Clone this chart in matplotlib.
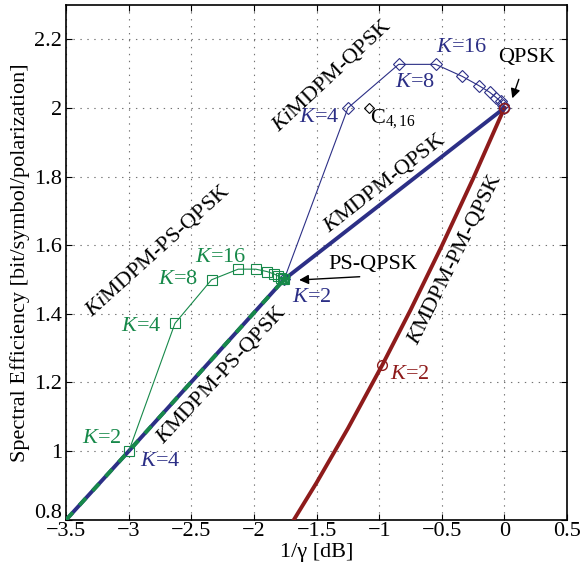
import matplotlib
matplotlib.use('Agg')
import matplotlib.pyplot as plt
import matplotlib.transforms as mtransforms

plt.rcParams['font.family'] = ['Liberation Serif', 'DejaVu Serif']
plt.rcParams['mathtext.fontset'] = 'custom'
plt.rcParams['mathtext.rm'] = 'Liberation Serif'
plt.rcParams['mathtext.it'] = 'Liberation Serif:italic'
plt.rcParams['lines.scale_dashes'] = False

# 색상
BLUE = '#2c2f86'
GREEN = '#17894a'
RED = '#8e1b1b'

# 기준 포맷 (1/gamma [dB], SE)
qpsk_pt = [0.0, 2.0]
psqpsk_pt = [-1.76, 1.5]
c416_pt = [-1.084, 2.0]

# KMDPM-QPSK
kmdpm_qpsk_x = [-1.76, 0.0]
kmdpm_qpsk_y = [1.5, 2.0]

# KMDPM-PS-QPSK
kmdpm_ps_x = [-3.5, -3.0, -1.76]
kmdpm_ps_y = [0.8, 1.0, 1.5]

# KMDPM-PM-QPSK
kmdpm_pm_x = [0.0, -0.25, -0.5, -0.75, -0.975, -1.25, -1.5, -1.683, -1.8]
kmdpm_pm_y = [2.0, 1.794, 1.598, 1.411, 1.251, 1.066, 0.908, 0.799, 0.74]
pm_k2 = [-0.975, 1.251]

# KiMDPM-QPSK (K=2,4,8,16,...)
kimdpm_qpsk_x = [-1.76, -1.25, -0.845, -0.549, -0.337, -0.204, -0.119, -0.065, -0.031, -0.012, 0.0]
kimdpm_qpsk_y = [1.5, 2.0, 2.127, 2.127, 2.092, 2.065, 2.046, 2.030, 2.019, 2.008, 2.0]

# KiMDPM-PS-QPSK (K=2,4,8,16,...)
kimdpm_ps_x = [-3.0, -2.632, -2.340, -2.127, -1.986, -1.896, -1.840, -1.808, -1.781, -1.768, -1.76]
kimdpm_ps_y = [1.0, 1.372, 1.499, 1.530, 1.530, 1.523, 1.516, 1.510, 1.503, 1.501, 1.5]

fig = plt.figure(figsize=(5.8, 5.76), dpi=100)
ax = fig.add_axes([0.1143, 0.0979, 0.9776 - 0.1143, 0.9913 - 0.0979])

ax.plot(kmdpm_ps_x, kmdpm_ps_y, color=BLUE, lw=2.8, zorder=3)
ax.plot(kmdpm_ps_x, kmdpm_ps_y, color=GREEN, lw=2.8, dashes=(7, 7), zorder=3)
ax.plot(kmdpm_qpsk_x, kmdpm_qpsk_y, color=BLUE, lw=2.8, zorder=3)
ax.plot(kmdpm_pm_x, kmdpm_pm_y, color=RED, lw=2.8, zorder=3)

ax.plot(kimdpm_qpsk_x, kimdpm_qpsk_y, color=BLUE, lw=0.8, marker='D', ms=6.5,
        mfc='none', mec=BLUE, mew=0.8, zorder=4)
ax.plot(kimdpm_ps_x, kimdpm_ps_y, color=GREEN, lw=0.8, marker='s', ms=6.5,
        mfc='none', mec=GREEN, mew=0.8, zorder=4)
ax.plot([psqpsk_pt[0]], [psqpsk_pt[1]], marker='*', ms=9, color=GREEN, zorder=5)
ax.plot([pm_k2[0]], [pm_k2[1]], marker='o', ms=7, mfc='none', mec=RED, mew=1.0, zorder=5)
ax.plot([qpsk_pt[0]], [qpsk_pt[1]], marker='o', ms=7, mfc='none', mec=RED, mew=1.2, zorder=5)
ax.plot([c416_pt[0]], [c416_pt[1]], marker='D', ms=5.5, mfc='none', mec='black', mew=0.8, zorder=5)

fs = 16
# K 라벨
ax.text(-0.342, 2.175, r'$K$=16', color=BLUE, fontsize=fs, ha='center', va='center')
ax.text(-0.713, 2.074, r'$K$=8', color=BLUE, fontsize=fs, ha='center', va='center')
ax.text(-1.483, 1.972, r'$K$=4', color=BLUE, fontsize=fs, ha='center', va='center')
ax.text(-1.542, 1.448, r'$K$=2', color=BLUE, fontsize=fs, ha='center', va='center')
ax.text(-2.752, 0.969, r'$K$=4', color=BLUE, fontsize=fs, ha='center', va='center')
ax.text(-2.265, 1.564, r'$K$=16', color=GREEN, fontsize=fs, ha='center', va='center')
ax.text(-2.609, 1.501, r'$K$=8', color=GREEN, fontsize=fs, ha='center', va='center')
ax.text(-2.898, 1.364, r'$K$=4', color=GREEN, fontsize=fs, ha='center', va='center')
ax.text(-3.217, 1.035, r'$K$=2', color=GREEN, fontsize=fs, ha='center', va='center')
ax.text(-0.757, 1.222, r'$K$=2', color=RED, fontsize=fs, ha='center', va='center')
ax.text(-1.076, 1.958, r'C$_{4,16}$', color='black', fontsize=fs, ha='left', va='baseline')

# 곡선 이름
ax.text(-1.379, 2.096, r'$Ki$MDPM-QPSK', fontsize=fs, rotation=43,
        rotation_mode='anchor', ha='center', va='center')
ax.text(-0.963, 1.781, r'$K$MDPM-QPSK', fontsize=fs, rotation=38,
        rotation_mode='anchor', ha='center', va='center')
ax.text(-0.398, 1.560, r'$K$MDPM-PM-QPSK', fontsize=fs, rotation=63.5,
        rotation_mode='anchor', ha='center', va='center')
ax.text(-2.772, 1.586, r'$Ki$MDPM-PS-QPSK', fontsize=fs, rotation=42,
        rotation_mode='anchor', ha='center', va='center')
ax.text(-2.265, 1.222, r'$K$MDPM-PS-QPSK', fontsize=fs, rotation=47,
        rotation_mode='anchor', ha='center', va='center')

# 화살표
ax.annotate('QPSK', xy=(0.063, 2.028), xytext=(0.174, 2.146), fontsize=fs,
            ha='center', va='center',
            arrowprops=dict(arrowstyle='-|>', color='black', lw=1.0,
                            mutation_scale=14, shrinkA=7, shrinkB=0))
ax.text(-1.052, 1.545, 'PS-QPSK', fontsize=fs, ha='center', va='center')
ax.annotate('', xy=(-1.64, 1.4985), xytext=(-1.156, 1.508),
            arrowprops=dict(arrowstyle='-|>', color='black', lw=1.0,
                            mutation_scale=14, shrinkA=0, shrinkB=0))

ax.set_xlim(-3.5, 0.5)
ax.set_ylim(0.8, 2.3)
ax.set_xticks([-3.5, -3, -2.5, -2, -1.5, -1, -0.5, 0, 0.5])
ax.set_xticklabels(['\u22123.5', '\u22123', '\u22122.5', '\u22122', '\u22121.5', '\u22121', '\u22120.5', '0', '0.5'])
ax.set_yticks([0.8, 1.0, 1.2, 1.4, 1.6, 1.8, 2.0, 2.2])
ax.set_yticklabels(['0.8', '1', '1.2', '1.4', '1.6', '1.8', '2', '2.2'])
ax.tick_params(direction='in', top=True, right=True, labelsize=fs, length=4, width=0.8, pad=3)
ax.tick_params(axis='x', pad=2)
ax.grid(True, linestyle=(0, (1, 4)), color='0.45', lw=0.8)
for s in ax.spines.values():
    s.set_linewidth(1.2)

# 0.8 라벨을 조금 위로 (x축 라벨과 겹침 방지)
lab08 = ax.get_yticklabels()[0]
lab08.set_transform(lab08.get_transform() + mtransforms.ScaledTranslation(0, 6 / 72, fig.dpi_scale_trans))

ax.set_xlabel('1/\u03b3 [dB]', fontsize=fs, labelpad=1)
ax.set_ylabel('Spectral Efficiency [bit/symbol/polarization]', fontsize=fs, labelpad=3)

plt.savefig('out.png', dpi=100)
